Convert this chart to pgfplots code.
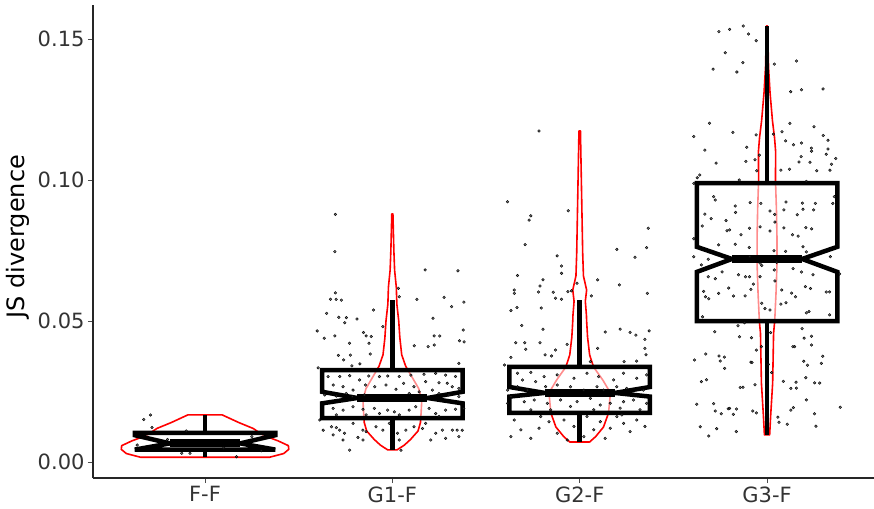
\documentclass[border=0pt]{standalone}
\usepackage{pgfplots}
\pgfplotsset{compat=1.18}
\usepackage{pgfplotstable}
\usepackage{fontspec}
\setmainfont{DejaVu Sans}
\definecolor{ptcol}{HTML}{3A3A3A}
\definecolor{vred}{HTML}{FF0000}

\pgfplotstableread{
x y
0.673 0.0151
0.709 0.0167
0.717 0.0122
0.638 0.0060
0.876 0.0031
1.168 0.0019
0.920 0.0031
0.800 0.0080
1.100 0.0050
1.250 0.0090
0.900 0.0110
1.300 0.0040
}\ptsFF

\pgfplotstableread{
x y
1.696 0.0878
1.693 0.0746
2.175 0.0681
2.350 0.0678
2.032 0.0616
1.696 0.0600
1.670 0.0577
1.700 0.0577
1.728 0.0574
2.037 0.0586
2.131 0.0577
2.276 0.0584
2.382 0.0567
2.316 0.0551
1.899 0.0539
1.649 0.0527
1.714 0.0513
1.755 0.0512
1.746 0.0494
1.811 0.0507
1.949 0.0480
2.217 0.0510
1.599 0.0465
1.636 0.0439
1.693 0.0447
1.846 0.0459
1.860 0.0447
1.887 0.0445
1.771 0.0421
1.875 0.0421
2.117 0.0412
2.223 0.0447
2.253 0.0447
2.191 0.0409
2.224 0.0415
2.359 0.0430
2.383 0.0426
2.378 0.0468
1.712 0.0378
1.776 0.0379
1.882 0.0383
1.740 0.0362
1.784 0.0341
1.827 0.0348
2.355 0.0350
1.604 0.0334
1.657 0.0303
1.719 0.0303
1.772 0.0306
1.825 0.0291
1.874 0.0305
1.931 0.0303
1.975 0.0305
2.037 0.0303
2.099 0.0308
2.169 0.0311
2.231 0.0314
2.284 0.0308
2.337 0.0303
1.684 0.0273
1.737 0.0267
1.790 0.0255
1.857 0.0273
1.906 0.0267
1.966 0.0273
2.019 0.0258
2.060 0.0279
2.115 0.0267
2.178 0.0285
2.249 0.0281
2.293 0.0279
2.320 0.0267
2.355 0.0261
1.639 0.0238
1.701 0.0234
1.754 0.0243
1.786 0.0232
1.851 0.0238
2.090 0.0243
2.143 0.0249
2.214 0.0255
2.249 0.0243
2.302 0.0238
2.355 0.0232
1.684 0.0190
1.737 0.0184
1.790 0.0196
1.843 0.0187
1.904 0.0190
1.931 0.0172
1.975 0.0184
2.011 0.0178
2.090 0.0184
2.125 0.0196
2.196 0.0190
2.231 0.0172
2.284 0.0184
2.337 0.0187
2.381 0.0190
1.701 0.0167
1.860 0.0167
2.037 0.0167
2.249 0.0161
1.631 0.0113
1.675 0.0125
1.701 0.0122
1.719 0.0113
1.745 0.0102
1.772 0.0042
1.790 0.0137
1.816 0.0087
1.843 0.0078
1.860 0.0108
1.913 0.0125
1.949 0.0113
2.028 0.0102
2.037 0.0078
2.046 0.0042
2.072 0.0113
2.116 0.0125
2.161 0.0119
2.178 0.0137
2.231 0.0102
2.267 0.0113
2.320 0.0113
2.346 0.0113
2.373 0.0113
2.355 0.0090
2.284 0.0084
2.205 0.0078
1.843 0.0113
1.737 0.0078
1.684 0.0096
1.613 0.0149
1.984 0.0137
}\ptsGone

\pgfplotstableread{
x y
2.783 0.1174
2.615 0.0923
2.939 0.0891
2.739 0.0873
2.730 0.0858
3.366 0.0829
2.709 0.0771
3.198 0.0754
3.357 0.0760
2.880 0.0731
3.295 0.0726
2.903 0.0695
2.903 0.0669
2.668 0.0661
3.096 0.0646
2.804 0.0646
2.788 0.0624
3.212 0.0628
2.651 0.0610
2.651 0.0598
2.780 0.0603
2.859 0.0602
2.937 0.0604
2.956 0.0607
2.986 0.0634
3.062 0.0589
2.871 0.0581
2.903 0.0577
3.361 0.0598
2.633 0.0537
2.665 0.0548
2.795 0.0546
2.691 0.0484
2.804 0.0471
3.136 0.0461
3.216 0.0471
3.269 0.0460
3.300 0.0450
3.371 0.0465
2.659 0.0423
2.707 0.0423
2.788 0.0423
2.712 0.0400
2.815 0.0380
2.850 0.0376
2.871 0.0397
2.933 0.0417
3.096 0.0403
3.057 0.0356
3.348 0.0403
3.354 0.0380
3.348 0.0435
3.237 0.0356
3.304 0.0358
2.633 0.0371
2.598 0.0344
2.668 0.0315
2.739 0.0318
2.695 0.0291
2.765 0.0285
2.810 0.0303
2.880 0.0309
2.969 0.0297
3.039 0.0315
3.101 0.0303
3.181 0.0291
3.234 0.0315
3.304 0.0297
3.357 0.0309
2.668 0.0267
2.721 0.0255
2.818 0.0267
2.880 0.0273
2.951 0.0267
3.022 0.0255
3.092 0.0267
3.128 0.0255
3.198 0.0267
3.251 0.0261
3.340 0.0255
2.633 0.0232
2.704 0.0214
2.757 0.0220
2.827 0.0208
2.898 0.0220
2.986 0.0214
3.057 0.0226
3.110 0.0202
3.163 0.0208
3.234 0.0214
3.287 0.0220
3.357 0.0208
2.739 0.0185
2.845 0.0185
2.951 0.0197
3.075 0.0185
3.216 0.0191
3.322 0.0185
2.615 0.0255
2.615 0.0208
2.651 0.0149
2.686 0.0114
2.739 0.0084
2.783 0.0120
2.836 0.0143
2.880 0.0102
2.916 0.0149
2.969 0.0126
3.039 0.0161
3.075 0.0114
3.110 0.0143
3.163 0.0120
3.198 0.0161
3.234 0.0137
3.269 0.0108
3.304 0.0149
3.348 0.0126
2.633 0.0090
3.022 0.0090
3.225 0.0167
2.792 0.0161
2.933 0.0078
3.136 0.0084
}\ptsGtwo

\pgfplotstableread{
x y
3.743 0.1526
3.800 0.1534
3.873 0.1546
3.901 0.1518
3.942 0.1494
3.777 0.1451
3.712 0.1393
3.839 0.1383
3.871 0.1416
4.039 0.1411
4.157 0.1422
4.126 0.1313
4.184 0.1320
4.299 0.1323
3.693 0.1201
3.609 0.1154
3.668 0.1106
3.818 0.1169
3.892 0.1116
3.942 0.1160
3.728 0.1060
3.887 0.1066
4.034 0.1163
4.080 0.1171
4.122 0.1201
4.251 0.1189
4.099 0.1139
4.141 0.1125
4.184 0.1131
4.237 0.1113
4.238 0.1102
4.300 0.1158
4.325 0.1141
4.325 0.1110
4.316 0.1091
4.367 0.1076
4.344 0.1056
4.182 0.1083
4.171 0.1064
4.229 0.1063
4.265 0.1033
4.336 0.1035
4.210 0.0995
3.959 0.1088
3.936 0.1072
3.945 0.1033
3.852 0.1000
3.641 0.1018
3.627 0.1008
3.609 0.0988
4.074 0.1035
4.120 0.1038
3.715 0.0941
3.724 0.0929
3.668 0.0879
3.702 0.0863
3.781 0.0856
3.830 0.0908
3.832 0.0885
3.910 0.0920
3.967 0.0917
4.016 0.0890
4.041 0.0878
4.101 0.0922
4.090 0.0894
4.161 0.0877
4.189 0.0918
4.192 0.0896
4.258 0.0917
4.249 0.0894
4.351 0.0917
4.359 0.0941
3.654 0.0837
3.786 0.0820
3.800 0.0823
3.861 0.0806
3.906 0.0829
3.963 0.0834
4.016 0.0819
4.042 0.0851
4.090 0.0830
4.136 0.0806
4.207 0.0831
4.238 0.0827
4.166 0.0801
3.905 0.0761
3.830 0.0772
3.742 0.0770
3.609 0.0792
3.609 0.0728
3.650 0.0699
3.686 0.0719
3.908 0.0728
3.963 0.0705
4.037 0.0749
4.099 0.0747
4.192 0.0763
4.210 0.0745
4.338 0.0728
4.245 0.0664
4.184 0.0674
4.139 0.0686
4.051 0.0708
4.039 0.0681
3.972 0.0697
3.885 0.0657
3.848 0.0664
3.760 0.0674
3.724 0.0650
3.686 0.0657
3.662 0.0605
3.689 0.0579
3.742 0.0598
3.795 0.0617
3.821 0.0589
3.883 0.0589
3.906 0.0657
3.927 0.0631
3.963 0.0657
4.042 0.0642
4.078 0.0610
4.131 0.0599
4.152 0.0586
4.205 0.0622
4.232 0.0615
4.316 0.0603
4.334 0.0603
4.387 0.0667
3.656 0.0515
3.972 0.0563
3.989 0.0544
4.016 0.0539
4.074 0.0560
4.101 0.0565
4.210 0.0529
4.224 0.0534
4.334 0.0522
3.914 0.0612
3.671 0.0586
3.721 0.0462
3.845 0.0483
3.880 0.0494
3.853 0.0444
3.917 0.0441
3.943 0.0397
3.970 0.0409
4.019 0.0459
4.187 0.0473
4.198 0.0439
4.237 0.0446
4.237 0.0415
4.138 0.0409
4.147 0.0409
4.297 0.0375
4.290 0.0350
4.196 0.0357
4.216 0.0343
3.673 0.0383
3.613 0.0362
3.744 0.0376
3.750 0.0358
3.772 0.0372
3.774 0.0332
3.914 0.0354
3.920 0.0353
4.007 0.0346
4.025 0.0317
3.650 0.0285
3.677 0.0292
3.857 0.0264
3.872 0.0265
3.936 0.0274
4.087 0.0286
4.127 0.0261
4.155 0.0283
4.157 0.0262
4.207 0.0299
4.254 0.0281
4.281 0.0280
4.210 0.0220
4.391 0.0194
4.141 0.0193
4.127 0.0184
4.253 0.0171
4.261 0.0127
4.108 0.0134
4.064 0.0141
4.058 0.0159
3.625 0.0205
3.715 0.0207
3.724 0.0181
3.756 0.0171
3.793 0.0189
3.800 0.0190
3.837 0.0188
3.820 0.0169
3.924 0.0181
3.943 0.0174
3.643 0.0125
3.731 0.0118
3.689 0.0092
3.836 0.0108
}\ptsGthree

\begin{document}
\begin{tikzpicture}
\path[use as bounding box] (-93bp,-31bp) rectangle (781bp,478bp);
\begin{axis}[
  at={(0,0)}, anchor=south west,
  scale only axis, width=781bp, height=473bp,
  xmin=0.402, xmax=4.571, ymin=-0.00567, ymax=0.16206,
  axis lines=left,
  axis line style={-, line width=1.3bp, black!85},
  xtick={1,2,3,4}, xticklabels={F-F,G1-F,G2-F,G3-F},
  ytick={0,0.05,0.10,0.15}, yticklabels={0.00,0.05,0.10,0.15},
  tick align=outside, major tick length=5bp,
  tick style={line width=1bp, black!70},
  ticklabel style={font=\fontsize{21bp}{25bp}\selectfont, text=black!80},
  ylabel={JS divergence},
  every axis y label/.style={at={(axis description cs:-0.096,0.51)}, rotate=90, anchor=center, font=\fontsize{24bp}{28bp}\selectfont},
  clip=false,
]
% violins
\addplot[vred, line width=1.6bp, line join=round] coordinates {
(1.345,0.0017)(1.42,0.0030)(1.447,0.0045)(1.445,0.0058)(1.39,0.0075)(1.31,0.0095)(1.257,0.0119)(1.18,0.0140)(1.092,0.0167)
(0.908,0.0167)(0.82,0.0140)(0.743,0.0119)(0.69,0.0095)(0.61,0.0075)(0.555,0.0058)(0.553,0.0045)(0.58,0.0030)(0.655,0.0017)} -- cycle;
\addplot[vred, line width=1.6bp, line join=round] coordinates {
(2.025,0.0043)(2.064,0.0060)(2.097,0.0080)(2.137,0.0110)(2.150,0.0140)(2.154,0.0180)(2.157,0.0220)(2.141,0.0260)(2.106,0.0300)(2.071,0.0340)(2.050,0.0380)(2.040,0.0440)(2.034,0.0500)(2.024,0.0560)(2.021,0.0620)(2.012,0.0680)(2.008,0.0750)(2.003,0.0880)
(1.997,0.0880)(1.992,0.0750)(1.988,0.0680)(1.979,0.0620)(1.976,0.0560)(1.966,0.0500)(1.960,0.0440)(1.950,0.0380)(1.929,0.0340)(1.894,0.0300)(1.859,0.0260)(1.843,0.0220)(1.846,0.0180)(1.850,0.0140)(1.863,0.0110)(1.903,0.0080)(1.936,0.0060)(1.975,0.0043)} -- cycle;
\addplot[vred, line width=1.6bp, line join=round] coordinates {
(3.053,0.0071)(3.085,0.0090)(3.127,0.0124)(3.154,0.0174)(3.164,0.0245)(3.124,0.0290)(3.074,0.0337)(3.053,0.0380)(3.042,0.0443)(3.037,0.0500)(3.036,0.0520)(3.030,0.0570)(3.037,0.0610)(3.020,0.0660)(3.016,0.0740)(3.011,0.0920)(3.004,0.1174)
(2.996,0.1174)(2.989,0.0920)(2.984,0.0740)(2.980,0.0660)(2.963,0.0610)(2.970,0.0570)(2.964,0.0520)(2.963,0.0500)(2.958,0.0443)(2.947,0.0380)(2.926,0.0337)(2.876,0.0290)(2.836,0.0245)(2.846,0.0174)(2.873,0.0124)(2.915,0.0090)(2.947,0.0071)} -- cycle;
\addplot[vred, line width=1.6bp, line join=round] coordinates {
(4.014,0.0096)(4.019,0.0160)(4.030,0.0280)(4.035,0.0457)(4.041,0.0500)(4.048,0.0600)(4.053,0.0700)(4.053,0.0800)(4.050,0.0900)(4.045,0.1000)(4.046,0.1100)(4.040,0.1150)(4.029,0.1210)(4.016,0.1310)(4.008,0.1400)(4.003,0.1546)
(3.997,0.1546)(3.992,0.1400)(3.984,0.1310)(3.971,0.1210)(3.960,0.1150)(3.954,0.1100)(3.955,0.1000)(3.950,0.0900)(3.947,0.0800)(3.947,0.0700)(3.952,0.0600)(3.959,0.0500)(3.965,0.0457)(3.970,0.0280)(3.981,0.0160)(3.986,0.0096)} -- cycle;
% notched boxes
\addplot[black, line width=4.5bp, line join=miter, fill=white, fill opacity=0.55] coordinates {
(0.625,0.0044)(1.375,0.0044)(1.375,0.0044)(1.1875,0.0066)(1.375,0.0095)(1.375,0.0103)(0.625,0.0103)(0.625,0.0095)(0.8125,0.0066)(0.625,0.0044)} -- cycle;
\addplot[black, line width=4.5bp, line join=miter, fill=white, fill opacity=0.55] coordinates {
(1.625,0.0156)(2.375,0.0156)(2.375,0.0208)(2.1875,0.0227)(2.375,0.0249)(2.375,0.0326)(1.625,0.0326)(1.625,0.0249)(1.8125,0.0227)(1.625,0.0208)} -- cycle;
\addplot[black, line width=4.5bp, line join=miter, fill=white, fill opacity=0.55] coordinates {
(2.625,0.0174)(3.375,0.0174)(3.375,0.0232)(3.1875,0.0245)(3.375,0.0266)(3.375,0.0337)(2.625,0.0337)(2.625,0.0266)(2.8125,0.0245)(2.625,0.0232)} -- cycle;
\addplot[black, line width=4.5bp, line join=miter, fill=white, fill opacity=0.55] coordinates {
(3.625,0.0500)(4.375,0.0500)(4.375,0.0674)(4.1875,0.0720)(4.375,0.0763)(4.375,0.0989)(3.625,0.0989)(3.625,0.0763)(3.8125,0.0720)(3.625,0.0674)} -- cycle;
% whiskers
\addplot[black, line width=4.5bp] coordinates {(1,0.0103)(1,0.0167)};
\addplot[black, line width=4.5bp] coordinates {(1,0.0044)(1,0.0019)};
\addplot[black, line width=4.5bp] coordinates {(2,0.0326)(2,0.0574)};
\addplot[black, line width=4.5bp] coordinates {(2,0.0156)(2,0.0043)};
\addplot[black, line width=4.5bp] coordinates {(3,0.0337)(3,0.0575)};
\addplot[black, line width=4.5bp] coordinates {(3,0.0174)(3,0.0071)};
\addplot[black, line width=4.5bp] coordinates {(4,0.0989)(4,0.1546)};
\addplot[black, line width=4.5bp] coordinates {(4,0.0500)(4,0.0096)};
% medians
\addplot[black, line width=8bp] coordinates {(0.8125,0.0066)(1.1875,0.0066)};
\addplot[black, line width=8bp] coordinates {(1.8125,0.0227)(2.1875,0.0227)};
\addplot[black, line width=8bp] coordinates {(2.8125,0.0245)(3.1875,0.0245)};
\addplot[black, line width=8bp] coordinates {(3.8125,0.0720)(4.1875,0.0720)};
% jittered points
\addplot[only marks, mark=*, mark size=1.35bp, mark options={draw=none, fill=ptcol, fill opacity=0.7}] table {\ptsFF};
\addplot[only marks, mark=*, mark size=1.35bp, mark options={draw=none, fill=ptcol, fill opacity=0.7}] table {\ptsGone};
\addplot[only marks, mark=*, mark size=1.35bp, mark options={draw=none, fill=ptcol, fill opacity=0.7}] table {\ptsGtwo};
\addplot[only marks, mark=*, mark size=1.35bp, mark options={draw=none, fill=ptcol, fill opacity=0.7}] table {\ptsGthree};
\end{axis}
\end{tikzpicture}
\end{document}
